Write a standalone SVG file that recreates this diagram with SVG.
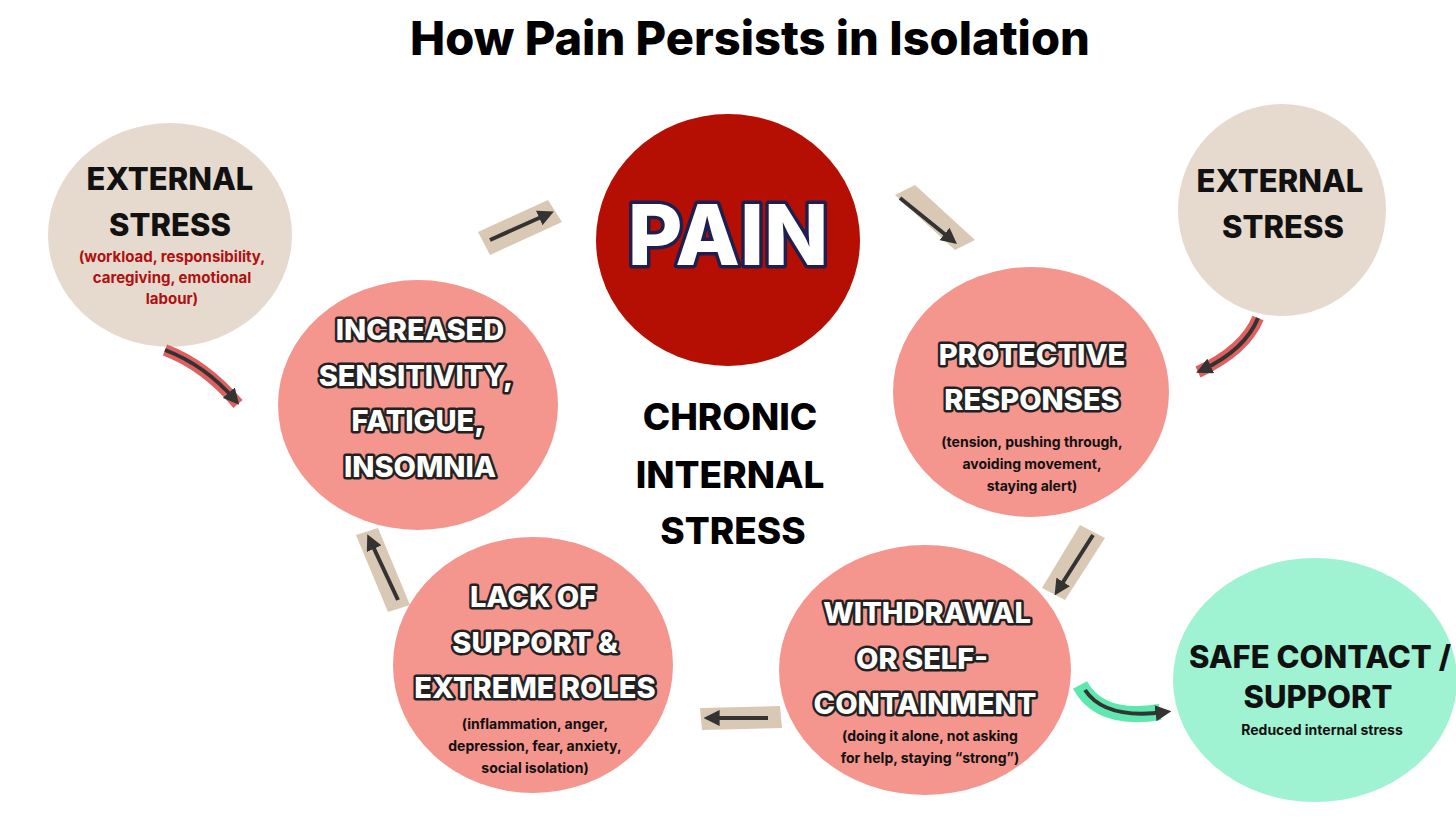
<svg xmlns="http://www.w3.org/2000/svg" width="1456" height="819" viewBox="0 0 1456 819">
<style>
text{font-family:"Inter","Liberation Sans",sans-serif;font-weight:800;text-anchor:middle}
.t{fill:#000;font-size:47px}
.beige{fill:#e6dace}
.pink{fill:#f4958e}
.hd{fill:#111;font-size:31px}
.ol{fill:#fff;stroke:#222;stroke-width:5px;paint-order:stroke;stroke-linejoin:round;font-size:29px}
.sm{fill:#111;font-size:14px;font-weight:700}
.smr{fill:#b01010;font-size:15px;font-weight:700}
.ctr{fill:#000;font-size:37px}
.patch{fill:#d8c8b4}
.ar{stroke:#333;stroke-width:4;fill:none}
</style>
<defs>
<marker id="ah" viewBox="0 0 10 10" refX="6" refY="5" markerWidth="4" markerHeight="4" orient="auto"><path d="M0,0L10,5L0,10z" fill="#333"/></marker>
</defs>
<rect width="1456" height="819" fill="#fff"/>
<text class="t" x="750" y="55">How Pain Persists in Isolation</text>

<g id="ext-left"><ellipse class="beige" cx="170" cy="235" rx="122" ry="112"/>
<text class="hd" x="170" y="190">EXTERNAL</text><text class="hd" x="170" y="236">STRESS</text>
<text class="smr" x="172" y="262">(workload, responsibility,</text><text class="smr" x="172" y="283">caregiving, emotional</text><text class="smr" x="172" y="304">labour)</text></g>

<g id="pain"><ellipse cx="728" cy="240" rx="132" ry="126" fill="#b50f04"/>
<text x="728" y="265" font-size="84" fill="#fff" stroke="#1c1f4f" stroke-width="7" paint-order="stroke" stroke-linejoin="round">PAIN</text></g>

<g id="ext-right"><ellipse class="beige" cx="1282" cy="210" rx="104" ry="106"/>
<text class="hd" x="1280" y="192">EXTERNAL</text><text class="hd" x="1283" y="238">STRESS</text></g>

<g id="sens"><ellipse class="pink" cx="418" cy="405" rx="140" ry="125"/>
<text class="ol" x="420" y="340">INCREASED</text><text class="ol" x="416" y="386">SENSITIVITY,</text><text class="ol" x="418" y="431">FATIGUE,</text><text class="ol" x="420" y="477">INSOMNIA</text></g>

<g id="prot"><ellipse class="pink" cx="1031" cy="392" rx="138" ry="125"/>
<text class="ol" x="1032" y="365">PROTECTIVE</text><text class="ol" x="1032" y="410">RESPONSES</text>
<text class="sm" x="1032" y="447">(tension, pushing through,</text><text class="sm" x="1032" y="469">avoiding movement,</text><text class="sm" x="1032" y="491">staying alert)</text></g>

<g id="center"><text class="ctr" x="730" y="430">CHRONIC</text><text class="ctr" x="730" y="488">INTERNAL</text><text class="ctr" x="733" y="544">STRESS</text></g>

<g id="lack"><ellipse class="pink" cx="533" cy="665" rx="140" ry="128"/>
<text class="ol" x="533" y="607">LACK OF</text><text class="ol" x="535" y="653">SUPPORT &amp;</text><text class="ol" x="535" y="698">EXTREME ROLES</text>
<text class="sm" x="535" y="729">(inflammation, anger,</text><text class="sm" x="535" y="751">depression, fear, anxiety,</text><text class="sm" x="535" y="773">social isolation)</text></g>

<g id="withdraw"><ellipse class="pink" cx="925" cy="670" rx="146" ry="125"/>
<text class="ol" x="927" y="623">WITHDRAWAL</text><text class="ol" x="922" y="669">OR SELF-</text><text class="ol" x="925" y="714">CONTAINMENT</text>
<text class="sm" x="930" y="741">(doing it alone, not asking</text><text class="sm" x="930" y="763">for help, staying “strong”)</text></g>

<g id="safe"><ellipse cx="1315" cy="680" rx="142" ry="122" fill="#9ff3d3"/>
<text class="hd" x="1320" y="668" font-size="29">SAFE CONTACT /</text><text class="hd" x="1318" y="708" font-size="29">SUPPORT</text>
<text class="sm" x="1322" y="735">Reduced internal stress</text></g>

<g id="connectors">
<g><polygon class="patch" points="478,232 548,200 562,222 490,255"/><line class="ar" x1="490" y1="240" x2="548" y2="214" marker-end="url(#ah)"/></g>
<g><polygon class="patch" points="895,195 915,185 975,240 955,250"/><line class="ar" x1="900" y1="198" x2="952" y2="240" marker-end="url(#ah)"/></g>
<g><polygon class="patch" points="1080,525 1105,538 1065,600 1042,588"/><line class="ar" x1="1093" y1="535" x2="1058" y2="590" marker-end="url(#ah)"/></g>
<g><polygon class="patch" points="700,708 780,706 782,728 702,730"/><line class="ar" x1="768" y1="718" x2="710" y2="718" marker-end="url(#ah)"/></g>
<g><polygon class="patch" points="356,535 378,528 410,605 388,612"/><line class="ar" x1="398" y1="600" x2="370" y2="540" marker-end="url(#ah)"/></g>
<g><path d="M165,350 Q205,365 238,404" stroke="#e06060" stroke-width="12" fill="none"/><path d="M165,350 Q205,365 235,400" class="ar" stroke="#222" stroke-width="3" marker-end="url(#ah)"/></g>
<g><path d="M1258,318 Q1245,350 1198,372" stroke="#e06060" stroke-width="12" fill="none"/><path d="M1258,318 Q1245,350 1202,370" class="ar" stroke="#222" stroke-width="3" marker-end="url(#ah)"/></g>
<g><path d="M1080,685 Q1100,722 1160,712" stroke="#5ee8b0" stroke-width="16" fill="none"/><path d="M1085,690 Q1105,720 1165,712" class="ar" stroke="#222" stroke-width="3" marker-end="url(#ah)"/></g>
</g>
</svg>
